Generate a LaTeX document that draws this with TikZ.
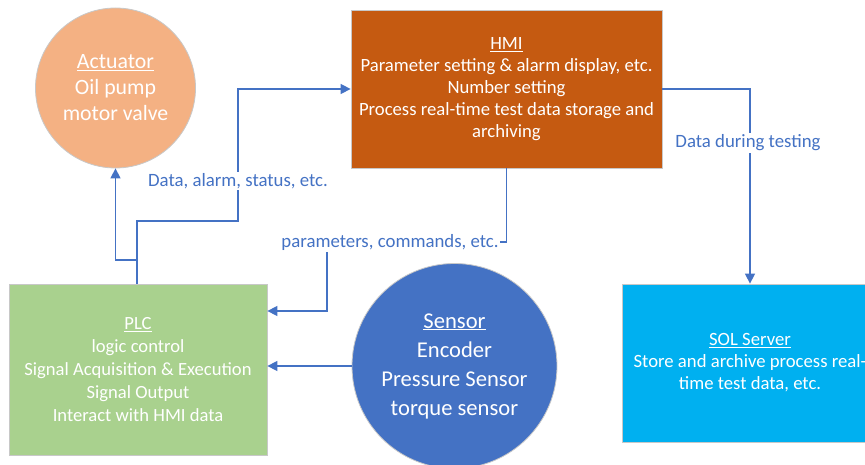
\documentclass[tikz,border=0pt]{standalone}
\usepackage{fontspec}
\setmainfont{Carlito}
\usetikzlibrary{arrows.meta}
\definecolor{actfill}{HTML}{F4B183}
\definecolor{hmifill}{HTML}{C55A11}
\definecolor{plcfill}{HTML}{A9D18E}
\definecolor{senfill}{HTML}{4472C4}
\definecolor{solfill}{HTML}{00B0F0}
\definecolor{linecol}{HTML}{4472C4}
\definecolor{edgecol}{HTML}{C8C8C8}
\tikzset{
  boxnode/.style={rectangle, draw=edgecol, line width=0.8pt, text=white, align=center, inner sep=0pt},
  circnode/.style={circle, draw=edgecol, line width=0.8pt, text=white, align=center, inner sep=0pt},
  conn/.style={draw=linecol, line width=1.5pt, -{Triangle[length=10pt,width=10pt]}},
  plainconn/.style={draw=linecol, line width=1.5pt},
  lbl/.style={fill=white, text=linecol, inner sep=1.5pt, font=\fontsize{18.8}{22}\selectfont}
}
\begin{document}
\begin{tikzpicture}[x=1pt,y=-1pt]
\useasboundingbox (0,0) rectangle (865,465);
\node[circnode, fill=actfill, minimum size=160pt, font=\fontsize{21.8}{26}\selectfont] (act) at (115.5,88) {\underline{Actuator}\\Oil pump\\motor valve};
\node[boxnode, fill=hmifill, minimum width=311pt, minimum height=158pt, font=\fontsize{18.7}{22}\selectfont] (hmi) at (506.5,89) {\underline{HMI}\\Parameter setting \& alarm display, etc.\\Number setting\\Process real-time test data storage and\\archiving};
\node[boxnode, fill=plcfill, minimum width=258pt, minimum height=171pt, font=\fontsize{18.6}{23}\selectfont] (plc) at (138,369.5) {\underline{PLC}\\logic control\\Signal Acquisition \& Execution\\Signal Output\\Interact with HMI data};
\node[circnode, fill=senfill, minimum size=205pt, font=\fontsize{22.6}{29}\selectfont] (sen) at (454.5,366) {\underline{Sensor}\\Encoder\\Pressure Sensor\\torque sensor};
\node[boxnode, fill=solfill, minimum width=256pt, minimum height=158pt, font=\fontsize{18.7}{22}\selectfont] (sol) at (750,363) {\underline{SOL Server}\\Store and archive process real-\\time test data, etc.};
% PLC -> Actuator and PLC -> HMI
\coordinate (j1) at (137,260);
\coordinate (j2) at (238,221);
\coordinate (p1) at (327,242);
\coordinate (pin) at (267,311);
\draw[plainconn] (plc.north -| j1) -- (j1);
\draw[conn] (j1) -| (act.south);
\draw[conn] (j1) |- (j2) |- (hmi.west);
\node[lbl] (l1) at (238,181) {Data, alarm, status, etc.};
% HMI -> PLC
\draw[conn] (hmi.south) |- (p1) |- (plc.east |- pin);
\node[lbl] (l2) at (390,242) {parameters, commands, etc.};
% Sensor -> PLC
\draw[conn] (sen.west) -- (plc.east |- sen.west);
% HMI -> SOL
\draw[conn] (hmi.east) -| (sol.north);
\node[lbl] (l3) at (748,143) {Data during testing};
\end{tikzpicture}
\end{document}
